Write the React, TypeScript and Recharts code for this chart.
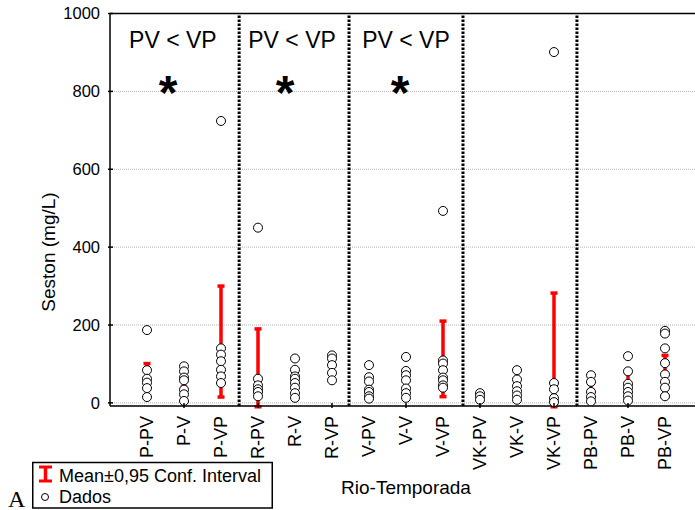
import React from 'react';
import {
  ScatterChart,
  Scatter,
  XAxis,
  YAxis,
  CartesianGrid,
  ReferenceLine,
  ReferenceDot,
  ErrorBar,
  Legend,
} from 'recharts';

// Rio-Temporada groups, left to right
const categorias = [
  'P-PV', 'P-V', 'P-VP',
  'R-PV', 'R-V', 'R-VP',
  'V-PV', 'V-V', 'V-VP',
  'VK-PV', 'VK-V', 'VK-VP',
  'PB-PV', 'PB-V', 'PB-VP',
];

// Seston (mg/L) per sample, one list per season (PV, V, VP) for each river
const dadosP = [
  [187, 84, 62, 52, 38, 15],
  [94, 81, 65, 58, 34, 22, 5],
  [724, 140, 124, 107, 85, 68, 51],
];
const dadosR = [
  [450, 62, 45, 35, 28, 17],
  [114, 85, 68, 62, 51, 39, 25, 13],
  [122, 114, 97, 77, 58],
];
const dadosV = [
  [97, 66, 55, 34, 28, 17, 11],
  [118, 82, 71, 58, 37, 25, 13],
  [493, 109, 101, 84, 65, 58, 45, 39],
];
const dadosVK = [
  [25, 17, 8],
  [84, 60, 43, 30, 19, 8],
  [901, 51, 35, 12, 2],
];
const dadosPB = [
  [71, 54, 28, 15, 4],
  [120, 81, 49, 39, 28, 17, 6],
  [185, 178, 140, 102, 73, 54, 39, 17],
];

// Mean ± 0,95 confidence interval limits
const ciInferior = [45, 40, 15, -10, 52, 80, 30, 40, 16, 10, 22, -10, 32, 48, 72];
const ciSuperior = [101, 58, 300, 190, 78, 105, 58, 75, 210, 22, 55, 282, 50, 76, 122];

const yTicks = [0, 200, 400, 600, 800, 1000];
const xTicks = categorias.map((_, i) => i + 1);
const topTicks = xTicks.filter((t) => t % 2 === 0);

// dotted separators between rivers and the significance notes above them
const divisorias = [3.49, 6.46, 9.54, 12.62];
const notas = [
  { x: 1.7, star: 1.57 },
  { x: 4.92, star: 4.73 },
  { x: 8.0, star: 7.84 },
];

const dados = [...dadosP, ...dadosR, ...dadosV, ...dadosVK, ...dadosPB];
const pontos = dados.flatMap((vals, i) => vals.map((v) => ({ x: i + 1, y: v })));
const intervalos = categorias.map((_, i) => ({
  x: i + 1,
  y: ciInferior[i],
  ic: [0, ciSuperior[i] - ciInferior[i]],
}));

const FONT = '"Liberation Sans", Arial, sans-serif';

const BottomTick = (props: any) => {
  const { x, y, payload } = props;
  const i = Math.round(payload.value);
  const ty = y + 8;
  return (
    <g>
      {i % 2 === 0 && <line x1={x} y1={y} x2={x} y2={y - 5} stroke="#000" strokeWidth={1.5} />}
      <text
        x={x}
        y={ty}
        transform={`rotate(-90 ${x} ${ty})`}
        textAnchor="end"
        dy="0.35em"
        fontSize={18}
        fill="#000"
      >
        {categorias[i - 1]}
      </text>
    </g>
  );
};

const TopTick = (props: any) => {
  const { x, y } = props;
  return <line x1={x} y1={y} x2={x} y2={y + 5} stroke="#000" strokeWidth={1.5} />;
};

const LeftTick = (props: any) => {
  const { x, y, payload } = props;
  return (
    <g>
      <line x1={x} y1={y} x2={x + 5} y2={y} stroke="#000" strokeWidth={1.5} />
      <text x={x - 8} y={y} textAnchor="end" dy="0.35em" fontSize={16.5} fill="#000">
        {payload.value}
      </text>
    </g>
  );
};

const CaixaLegenda = () => (
  <svg width={275} height={49} style={{ display: 'block' }}>
    <text x={8} y={46.5} fontFamily='"Liberation Serif", "Times New Roman", serif' fontSize={24} fill="#000">
      A
    </text>
    <rect x={32.75} y={2.5} width={239.5} height={45.5} fill="#fff" stroke="#000" strokeWidth={1.5} />
    <line x1={45.5} y1={6} x2={45.5} y2={22} stroke="#f00" strokeWidth={3.5} />
    <line x1={39} y1={7} x2={52} y2={7} stroke="#f00" strokeWidth={3} />
    <line x1={39} y1={21} x2={52} y2={21} stroke="#f00" strokeWidth={3} />
    <text x={59} y={22} fontSize={18} fill="#000">
      Mean±0,95 Conf. Interval
    </text>
    <circle cx={45} cy={37} r={3.5} fill="#fff" stroke="#000" strokeWidth={1} />
    <text x={59} y={43} fontSize={18} fill="#000">
      Dados
    </text>
  </svg>
);

export default function App() {
  return (
    <div
      style={{
        position: 'fixed',
        left: 0,
        top: 0,
        width: 695,
        height: 510,
        overflow: 'hidden',
        background: '#fff',
        fontFamily: FONT,
      }}
    >
      <ScatterChart width={720} height={510} margin={{ top: 12.5, right: 18, bottom: 9, left: 50 }}>
        <CartesianGrid vertical={false} stroke="#b4b4b4" strokeDasharray="1 1" />
        <XAxis
          dataKey="x"
          type="number"
          domain={[0, 16]}
          ticks={xTicks}
          interval={0}
          height={95}
          tickLine={false}
          tickSize={0}
          tick={BottomTick}
          axisLine={{ stroke: '#000', strokeWidth: 1.5 }}
          label={{ value: 'Rio-Temporada', position: 'insideBottom', offset: 7, fontSize: 19, fill: '#000' }}
        />
        <XAxis
          xAxisId="top"
          orientation="top"
          type="number"
          domain={[0, 16]}
          ticks={topTicks}
          interval={0}
          height={1}
          tickLine={false}
          tickSize={0}
          tick={TopTick}
          axisLine={{ stroke: '#000', strokeWidth: 1.5 }}
        />
        <YAxis
          dataKey="y"
          type="number"
          domain={[-8, 1000]}
          allowDataOverflow
          ticks={yTicks}
          interval={0}
          width={60}
          tickLine={false}
          tickSize={0}
          tick={LeftTick}
          axisLine={{ stroke: '#000', strokeWidth: 1.5 }}
          label={() => (
            <text
              x={48}
              y={252}
              transform="rotate(-90 48 252)"
              textAnchor="middle"
              dy="0.35em"
              fontSize={19}
              fill="#000"
            >
              Seston (mg/L)
            </text>
          )}
        />
        {divisorias.map((d) => (
          <ReferenceLine key={d} x={d} stroke="#000" strokeWidth={3} strokeDasharray="2.5 1.5" />
        ))}
        {notas.map((n) => (
          <ReferenceDot
            key={`pv${n.x}`}
            x={n.x}
            y={911}
            r={0}
            ifOverflow="visible"
            shape={(p: any) => (
              <text x={p.cx} y={p.cy} textAnchor="middle" fontSize={23} fill="#000">
                PV &lt; VP
              </text>
            )}
          />
        ))}
        {notas.map((n) => (
          <ReferenceDot
            key={`st${n.star}`}
            x={n.star}
            y={755}
            r={0}
            ifOverflow="visible"
            shape={(p: any) => (
              <text x={p.cx} y={p.cy} textAnchor="middle" fontSize={48} fontWeight="bold" fill="#000">
                *
              </text>
            )}
          />
        ))}
        <Scatter
          name="Mean±0,95 Conf. Interval"
          data={intervalos}
          isAnimationActive={false}
          shape={() => <g />}
        >
          <ErrorBar dataKey="ic" direction="y" width={3.5} stroke="#f00" strokeWidth={3.5} />
        </Scatter>
        <Scatter
          name="Dados"
          data={pontos}
          isAnimationActive={false}
          shape={(p: any) => <circle cx={p.cx} cy={p.cy} r={4.5} fill="#fff" stroke="#000" strokeWidth={1} />}
        />
        <Legend
          layout="vertical"
          align="center"
          verticalAlign="middle"
          wrapperStyle={{ position: 'absolute', left: 0, top: 460, width: 275, height: 49 }}
          content={CaixaLegenda}
        />
      </ScatterChart>
    </div>
  );
}
